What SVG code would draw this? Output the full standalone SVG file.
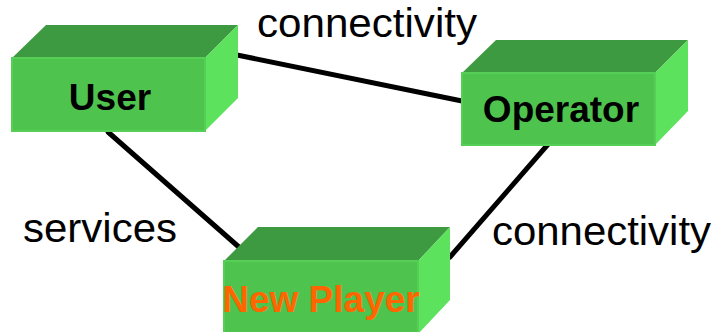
<svg xmlns="http://www.w3.org/2000/svg" width="717" height="332" viewBox="0 0 717 332">
<style>
.top{fill:#3e9a40}
.front{fill:#4ec44f;stroke:#56cf57;stroke-width:2}
.side{fill:#5ce25c}
.lbl{font-family:"Liberation Sans",Arial,sans-serif;font-weight:bold;font-size:37px;text-anchor:middle}
.txt{font-family:"Liberation Sans",Arial,sans-serif;font-size:41px;fill:#000}
.conn{stroke:#000;stroke-width:5;stroke-linecap:round;fill:none}
</style>
<rect width="717" height="332" fill="#fff"/>
<g id="connectors">
<line class="conn" x1="237" y1="55" x2="462" y2="101"/>
<line class="conn" x1="108" y1="132" x2="240" y2="248"/>
<line class="conn" x1="550" y1="142" x2="450" y2="257"/>
</g>
<g id="user">
<polygon class="top" points="12,58 46,25 238,25 205,58"/>
<polygon class="side" points="205,58 238,25 238,98 205,131"/>
<rect class="front" x="12" y="58" width="193" height="73"/>
<text class="lbl" x="110" y="110" fill="#000">User</text>
</g>
<g id="operator">
<polygon class="top" points="462,73 496,40 688,40 655,73"/>
<polygon class="side" points="655,73 688,40 688,111 655,145"/>
<rect class="front" x="462" y="73" width="193" height="72"/>
<text class="lbl" x="561" y="122" fill="#000">Operator</text>
</g>
<g id="newplayer">
<polygon class="top" points="224,261 258,227 450,227 418,261"/>
<polygon class="side" points="418,261 450,227 450,300 418,334"/>
<rect class="front" x="224" y="261" width="194" height="74"/>
<text class="lbl" x="321" y="312" fill="#ff6600">New Player</text>
</g>
<text class="txt" x="257" y="37" textLength="220" lengthAdjust="spacingAndGlyphs">connectivity</text>
<text class="txt" x="23" y="242" textLength="154" lengthAdjust="spacingAndGlyphs">services</text>
<text class="txt" x="492" y="245" textLength="219" lengthAdjust="spacingAndGlyphs">connectivity</text>
</svg>
